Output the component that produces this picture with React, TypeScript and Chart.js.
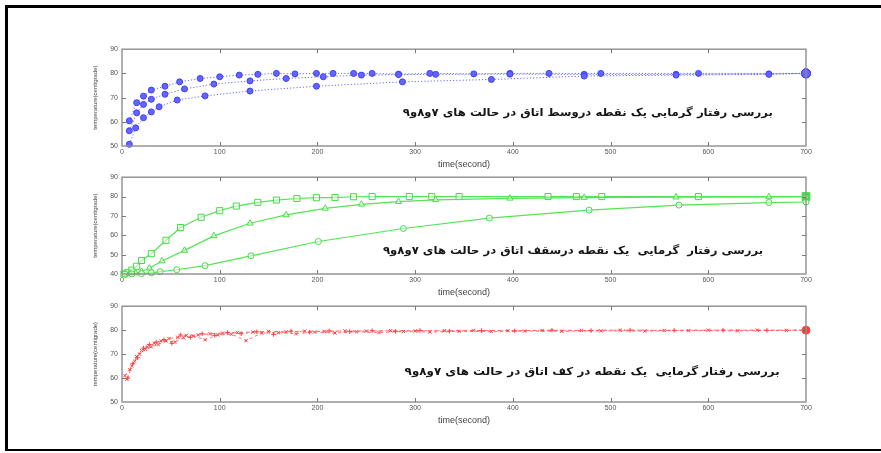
import React, { useEffect, useRef } from "react";
import { Chart, registerables } from "chart.js";

Chart.register(...registerables);

// ---------------- data ----------------
const xTickValues = [0, 100, 200, 300, 400, 500, 600, 700];

// panel 1 (blue) – middle of the room
const blueAX = [7.5, 15, 22, 30, 44, 59, 80, 100, 120, 139, 158, 177, 199, 216, 237, 256, 283, 315, 360, 397, 437, 490, 590, 700];
const blueAY = [60.4, 67.9, 70.6, 73.1, 74.7, 76.5, 77.9, 78.6, 79.3, 79.6, 80, 79.8, 80, 80, 80, 80, 79.7, 80, 79.8, 80, 80, 80, 80, 80];
const blueBX = [7.5, 15, 22, 30, 44, 64, 94, 131, 168, 206, 245, 283, 321, 397, 473, 567, 662, 700];
const blueBY = [56.3, 63.7, 67.2, 69.3, 71.4, 73.6, 75.6, 76.9, 77.9, 78.6, 79.3, 79.5, 79.6, 79.7, 79.6, 79.6, 79.8, 80];
const blueCX = [7.5, 14, 22, 30, 38, 56.5, 85, 131, 199, 287, 378, 473, 567, 662, 700];
const blueCY = [50.7, 57.5, 61.7, 64.1, 66.2, 69, 70.7, 72.7, 74.7, 76.5, 77.5, 78.9, 79.3, 79.6, 80];

// panel 2 (green) – ceiling of the room
const greenAX = [2, 6, 10, 15, 20, 30, 45, 60, 81, 100, 117, 139, 158, 179, 199, 218, 237, 256, 294, 317, 345, 436, 465, 491, 590, 700];
const greenAY = [40, 40.8, 42, 44, 47, 50.5, 57.4, 64, 69.3, 72.7, 75.1, 77, 78.2, 79, 79.4, 79.5, 79.9, 80, 80, 80, 80, 80, 80, 80, 80, 80];
const greenBX = [3, 8, 14, 20, 28, 41, 64, 94, 131, 168, 208, 245, 283, 321, 397, 473, 567, 662, 700];
const greenBY = [40, 40.1, 40.5, 41.3, 43, 46.7, 52.2, 59.7, 66.2, 70.5, 73.9, 76, 77.4, 78.3, 79.1, 79.5, 79.7, 79.8, 80];
const greenCX = [3, 10, 20, 30, 39, 56, 85, 132, 201, 288, 376, 478, 570, 662, 700];
const greenCY = [40, 40, 40.2, 40.6, 41.2, 42.2, 44.3, 49.4, 56.8, 63.5, 68.9, 73, 75.6, 76.9, 77.2];

// panel 3 (red) – floor of the room
const redAX = [5, 10, 15, 20, 26, 33, 40, 48, 57, 66, 78, 90, 103, 118, 134, 150, 168, 187, 207, 228, 250, 275, 300, 330, 360, 395, 430, 470, 510, 555, 600, 650, 700];
const redAY = [59.5, 65, 69, 71.5, 73, 74.5, 75.5, 76.5, 77, 77.8, 78, 78.5, 78.8, 79, 79.2, 79.5, 79.3, 79.6, 79.5, 79.7, 79.6, 79.8, 79.7, 79.8, 79.9, 79.8, 79.9, 79.9, 80, 79.9, 80, 80, 80];
const redBX = [3, 8, 13, 18, 24, 30, 37, 45, 54, 63, 73, 85, 98, 112, 127, 143, 160, 178, 197, 218, 240, 263, 288, 315, 345, 378, 412, 450, 490, 535, 580, 630, 680, 700];
const redBY = [61, 63.5, 67, 70, 72, 73, 74, 75.5, 75, 76.8, 77.5, 76, 78, 78.3, 75.6, 78.8, 79, 78.5, 79.2, 78.8, 79.3, 79, 79.4, 79.2, 79.5, 79.4, 79.6, 79.5, 79.7, 79.6, 79.8, 79.7, 79.9, 80];
const redCX = [6, 11, 16, 22, 28, 35, 43, 51, 60, 70, 82, 95, 108, 122, 138, 155, 173, 192, 212, 233, 256, 280, 305, 335, 368, 402, 440, 480, 520, 565, 615, 660, 700];
const redCY = [60, 66, 68.5, 72.5, 74, 75, 76, 74.5, 78, 77, 78.5, 77.8, 79, 78.5, 79.3, 78.2, 79.6, 79.2, 79.7, 79.4, 79.8, 79.5, 79.9, 79.6, 79.8, 79.7, 80, 79.8, 80, 79.9, 80, 79.9, 80];

const textMiddle = "بررسی رفتار گرمایی یک نقطه دروسط اتاق در حالت های ۷و۸و۹";
const textCeiling = "بررسی رفتار  گرمایی  یک نقطه درسقف اتاق در حالت های ۷و۸و۹";
const textFloor = "بررسی رفتار گرمایی  یک نقطه در کف اتاق در حالت های ۷و۸و۹";

const xTitle = "time(second)";
const yTitle = "temperature(centigrade)";

// ---------------- helpers ----------------
const pts = (xs: number[], ys: number[]) => xs.map((x, i) => ({ x, y: ys[i] }));

const blueSet = (xs: number[], ys: number[]) => ({
  data: pts(xs, ys),
  showLine: true,
  borderColor: "rgba(80,80,255,0.85)",
  borderWidth: 1,
  borderDash: [1.2, 2],
  pointStyle: "circle",
  pointRadius: (c: any) => (c.dataIndex === xs.length - 1 ? 4.5 : 3),
  pointBackgroundColor: "#6464ff",
  pointBorderColor: "#4040ff",
  pointBorderWidth: 1,
  clip: false,
});

const greenSet = (xs: number[], ys: number[], style: string, r: number, big: boolean) => ({
  data: pts(xs, ys),
  showLine: true,
  borderColor: "#55e455",
  borderWidth: 1.2,
  pointStyle: style,
  pointRadius: (c: any) => (big && c.dataIndex === xs.length - 1 ? 5.5 : r),
  pointBackgroundColor: (c: any) => (big && c.dataIndex === xs.length - 1 ? "#3ee03e" : "rgba(255,255,255,0.5)"),
  pointBorderColor: "#45dc45",
  pointBorderWidth: 1,
  clip: false,
});

const redSet = (xs: number[], ys: number[], style: string, dash: number[], big: boolean) => ({
  data: pts(xs, ys),
  showLine: true,
  borderColor: "rgba(255,70,70,0.75)",
  borderWidth: 1,
  borderDash: dash,
  pointStyle: (c: any) => (big && c.dataIndex === xs.length - 1 ? "circle" : style),
  pointRadius: (c: any) => (big && c.dataIndex === xs.length - 1 ? 4 : 2.3),
  pointBackgroundColor: "#ff3a3a",
  pointBorderColor: "#ff4040",
  pointBorderWidth: 1,
  clip: false,
});

type PanelCfg = {
  top: number;
  bottom: number;
  yMin: number;
  yMax: number;
  datasets: any[];
  text: string;
  annoX: number;
  annoY: number;
  annoW: number;
};

const PANELS: PanelCfg[] = [
  {
    top: 49, bottom: 146, yMin: 50, yMax: 90,
    datasets: [blueSet(blueCX, blueCY), blueSet(blueBX, blueBY), blueSet(blueAX, blueAY)],
    text: textMiddle, annoX: 666, annoY: 63.6, annoW: 370,
  },
  {
    top: 177, bottom: 274, yMin: 40, yMax: 90,
    datasets: [
      greenSet(greenCX, greenCY, "circle", 3, false),
      greenSet(greenBX, greenBY, "triangle", 3.6, false),
      greenSet(greenAX, greenAY, "rect", 4.3, true),
    ],
    text: textCeiling, annoX: 656, annoY: 52, annoW: 380,
  },
  {
    top: 306, bottom: 402, yMin: 50, yMax: 90,
    datasets: [
      redSet(redBX, redBY, "crossRot", [3, 3], false),
      redSet(redCX, redCY, "cross", [2, 3, 1, 3], false),
      redSet(redAX, redAY, "crossRot", [4, 3], true),
    ],
    text: textFloor, annoX: 673, annoY: 62.4, annoW: 375,
  },
];

const CANVAS_LEFT = 90;
const Y_AXIS_W = 32;
const PAD_TOP = 8;
const PAD_RIGHT = 24;
const X_AXIS_H = 24;
const PLOT_RIGHT = 806;

function Panel({ p }: { p: PanelCfg }) {
  const ref = useRef<HTMLCanvasElement>(null);
  const width = PLOT_RIGHT - CANVAS_LEFT + PAD_RIGHT;
  const height = PAD_TOP + (p.bottom - p.top) + X_AXIS_H;

  useEffect(() => {
    const framePlugin = {
      id: "frame" + p.top,
      afterDatasetsDraw(chart: any) {
        const { ctx, scales } = chart;
        const xs = scales.x;
        const ys = scales.y;
        const px = xs.getPixelForValue(p.annoX);
        const py = ys.getPixelForValue(p.annoY);
        ctx.save();
        ctx.font = 'bold 11px "DejaVu Sans"';
        ctx.direction = "rtl";
        ctx.textAlign = "right";
        ctx.textBaseline = "middle";
        ctx.fillStyle = "#151515";
        const w = ctx.measureText(p.text).width || 1;
        ctx.translate(px, py);
        ctx.scale(p.annoW / w, 1);
        ctx.fillText(p.text, 0, 0);
        ctx.restore();
      },
      afterDraw(chart: any) {
        const { ctx, chartArea, scales } = chart;
        const { left, right, top, bottom } = chartArea;
        ctx.save();
        ctx.strokeStyle = "#8e8e8e";
        ctx.lineWidth = 1.4;
        ctx.strokeRect(left, top, right - left, bottom - top);
        ctx.lineWidth = 1;
        ctx.strokeStyle = "#777";
        ctx.beginPath();
        scales.x.ticks.forEach((t: any) => {
          if (t.value <= scales.x.min || t.value >= scales.x.max) return;
          const x = Math.round(scales.x.getPixelForValue(t.value)) + 0.5;
          ctx.moveTo(x, bottom);
          ctx.lineTo(x, bottom - 4);
          ctx.moveTo(x, top);
          ctx.lineTo(x, top + 4);
        });
        scales.y.ticks.forEach((t: any) => {
          if (t.value <= scales.y.min || t.value >= scales.y.max) return;
          const y = Math.round(scales.y.getPixelForValue(t.value)) + 0.5;
          ctx.moveTo(left, y);
          ctx.lineTo(left + 4, y);
          ctx.moveTo(right, y);
          ctx.lineTo(right - 4, y);
        });
        ctx.stroke();
        ctx.restore();
      },
    };

    const chart = new Chart(ref.current as HTMLCanvasElement, {
      type: "scatter",
      data: { datasets: p.datasets as any },
      options: {
        responsive: false,
        animation: false,
        devicePixelRatio: 1,
        layout: { padding: { left: 0, right: PAD_RIGHT, top: PAD_TOP, bottom: 0 } },
        plugins: { legend: { display: false }, tooltip: { enabled: false } },
        scales: {
          x: {
            type: "linear",
            min: 0,
            max: 700,
            afterBuildTicks: (s: any) => {
              s.ticks = xTickValues.map((v) => ({ value: v }));
            },
            ticks: {
              font: { family: '"Liberation Sans"', size: 7 },
              color: "#555",
              padding: 2,
              maxRotation: 0,
              autoSkip: false,
            },
            grid: { display: false, drawTicks: false },
            border: { display: false },
            title: {
              display: true,
              text: xTitle,
              font: { family: '"Liberation Sans"', size: 9 },
              color: "#444",
              padding: { top: 0, bottom: 0.5 },
            },
            afterFit: (s: any) => {
              s.height = X_AXIS_H;
            },
          },
          y: {
            min: p.yMin,
            max: p.yMax,
            ticks: {
              stepSize: 10,
              font: { family: '"Liberation Sans"', size: 7 },
              color: "#555",
              padding: 4,
            },
            grid: { display: false, drawTicks: false },
            border: { display: false },
            title: {
              display: true,
              text: yTitle,
              font: { family: '"Liberation Sans"', size: 6 },
              color: "#444",
              padding: { top: 1.4, bottom: 0 },
            },
            afterFit: (s: any) => {
              s.width = Y_AXIS_W;
            },
          },
        },
      } as any,
      plugins: [framePlugin as any],
    });
    return () => chart.destroy();
  }, []);

  return (
    <canvas
      ref={ref}
      width={width}
      height={height}
      style={{ position: "absolute", left: CANVAS_LEFT, top: p.top - PAD_TOP, width, height }}
    />
  );
}

export default function App() {
  return (
    <div
      style={{
        position: "fixed",
        left: 0,
        top: 0,
        width: 881,
        height: 453,
        background: "#fff",
        overflow: "hidden",
      }}
    >
      <div
        style={{
          position: "absolute",
          left: 5,
          top: 5,
          width: 900,
          height: 446,
          boxSizing: "border-box",
          borderTop: "3px solid #000",
          borderLeft: "3px solid #000",
          borderBottom: "2px solid #000",
        }}
      />
      {PANELS.map((p, i) => (
        <Panel key={i} p={p} />
      ))}
    </div>
  );
}
